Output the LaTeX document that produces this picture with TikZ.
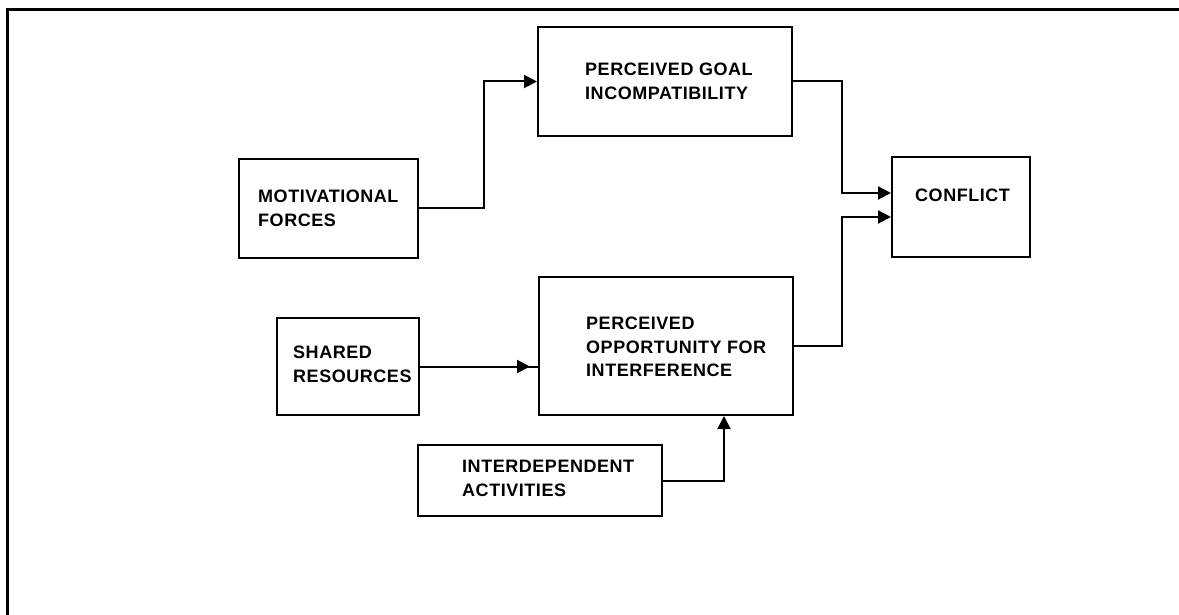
\documentclass[tikz,border=0pt]{standalone}
\usepackage{fontspec}
\setmainfont{Liberation Sans}[LetterSpace=3]
\usetikzlibrary{arrows.meta,fit,positioning,calc}
\begin{document}
\begin{tikzpicture}[x=1pt,y=-1pt,
  box/.style={draw, line width=2pt, inner sep=0pt},
  lbl/.style={anchor=north west, inner sep=0pt, align=left,
              font=\fontsize{18}{23.5}\selectfont\bfseries},
  arr/.style={line width=2pt, -{Triangle[length=13pt,width=13pt]}},
  wire/.style={line width=2pt}]
\useasboundingbox (0,0) rectangle (1179,615);
% open frame along the left and top edges
\draw[line width=3pt] (7,615) -- (7,10) -- (1179,10);

% boxes
\node[box, fit={(239,159) (418,258)}] (mot) {};
\node[box, fit={(538,27) (792,136)}] (goal) {};
\node[box, fit={(892,157) (1030,257)}] (conf) {};
\node[box, fit={(277,318) (419,415)}] (shr) {};
\node[box, fit={(539,277) (793,415)}] (opp) {};
\node[box, fit={(418,445) (662,516)}] (inter) {};

% labels
\node[lbl] (motT) at (258,190) {MOTIVATIONAL\\FORCES};
\node[lbl] (goalT) at (585,63) {PERCEIVED GOAL\\INCOMPATIBILITY};
\node[lbl] (confT) at (915,189) {CONFLICT};
\node[lbl] (shrT) at (293,346) {SHARED\\RESOURCES};
\node[lbl] (oppT) at (586,317) {PERCEIVED\\OPPORTUNITY FOR\\INTERFERENCE};
\node[lbl] (interT) at (462,460) {INTERDEPENDENT\\ACTIVITIES};

% connectors
\draw[arr] (mot.east) -- ++(65,0) |- (goal.west);
\draw[arr] (goal.east) -- ++(49,0) |- ([yshift=14pt]conf.west);
\draw[arr] (opp.east) -- ++(48,0) |- ([yshift=-10pt]conf.west);
\draw[wire] (shr.east) -- (shr.east -| opp.west);
\draw[arr, shorten >=8pt] (shr.east) -- (shr.east -| opp.west);
\draw[arr] (inter.east) -| ([xshift=58pt]opp.south);
\end{tikzpicture}
\end{document}
